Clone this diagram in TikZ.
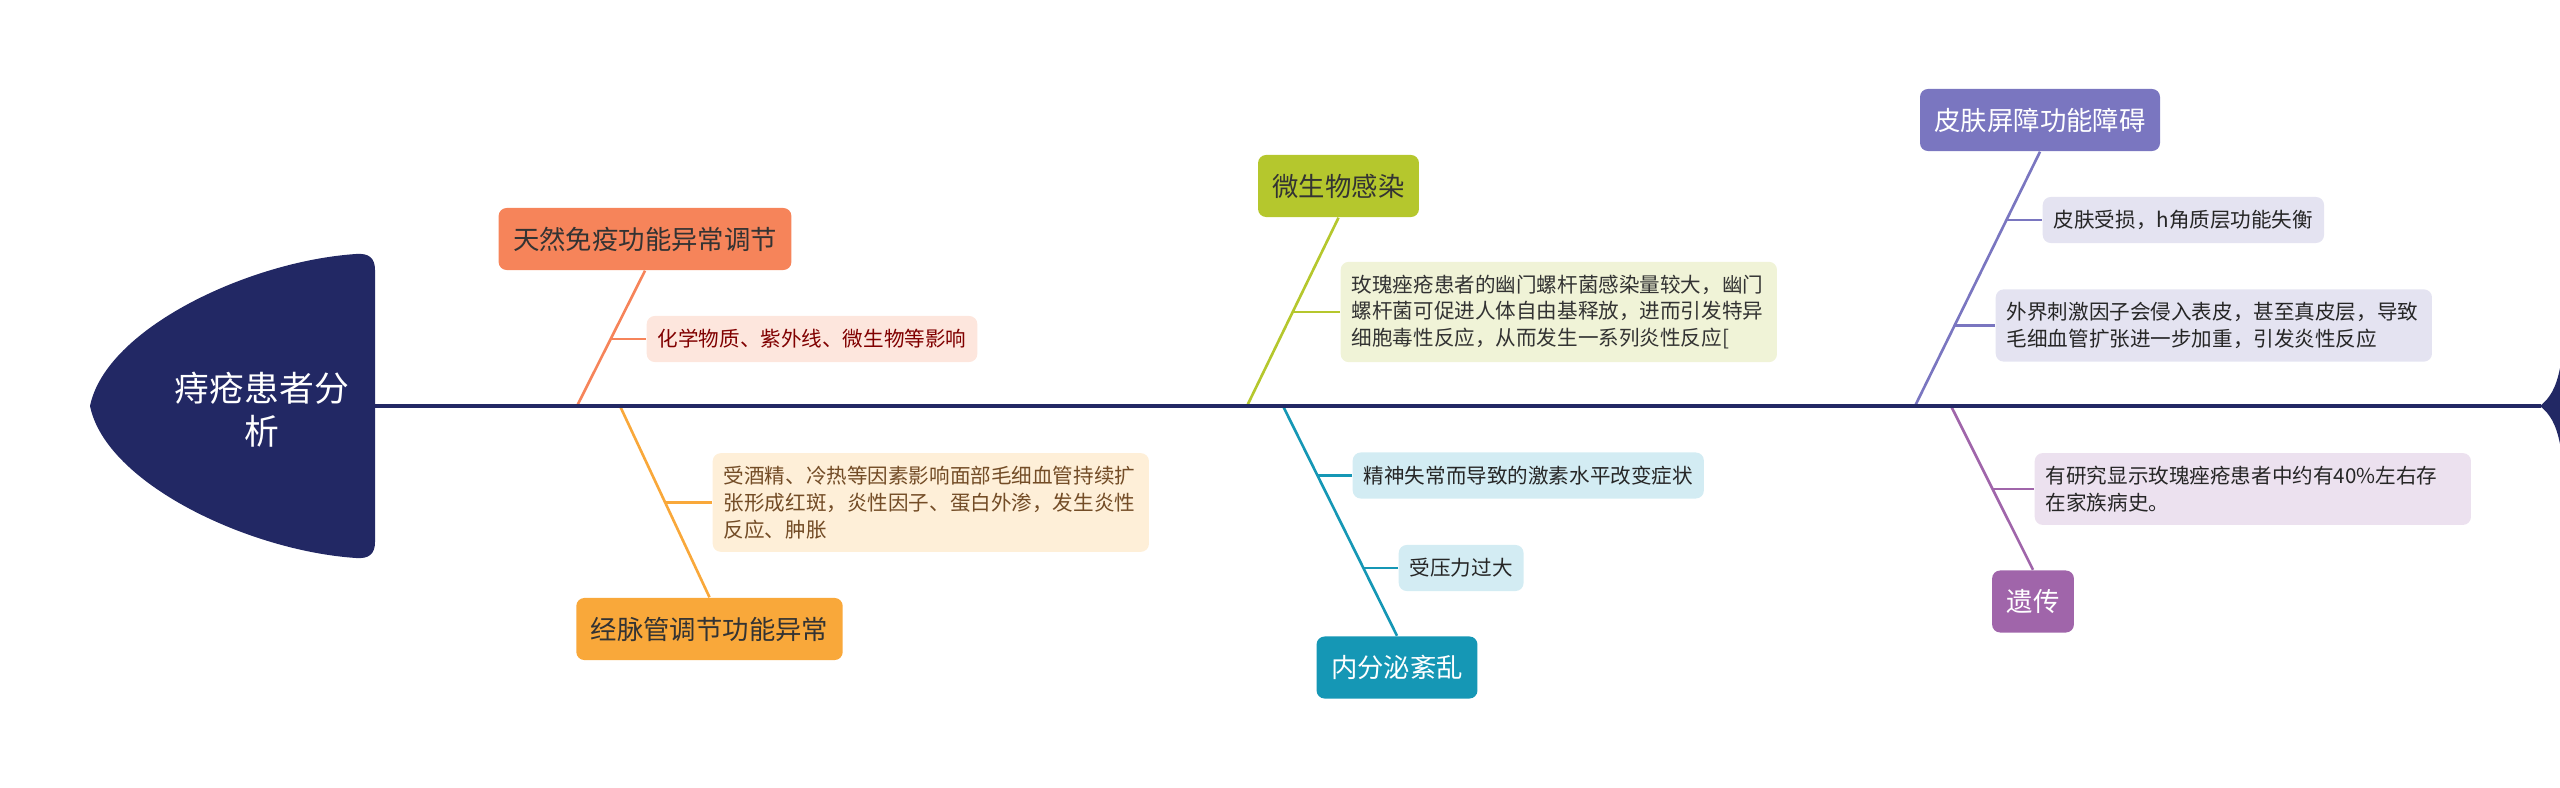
\documentclass[tikz,border=0pt]{standalone}
\usepackage{fontspec}
\setmainfont{Noto Sans CJK SC}
\usetikzlibrary{calc}
\definecolor{navy}{HTML}{222864}
\definecolor{immA}{HTML}{F6845A}
\definecolor{immB}{HTML}{FDE6DD}
\definecolor{vesA}{HTML}{F9A83A}
\definecolor{vesB}{HTML}{FEEFD8}
\definecolor{micA}{HTML}{B5C72D}
\definecolor{micB}{HTML}{F0F3D7}
\definecolor{endA}{HTML}{1597B5}
\definecolor{endB}{HTML}{D3ECF3}
\definecolor{skiA}{HTML}{7A76C0}
\definecolor{skiB}{HTML}{E4E3F1}
\definecolor{genA}{HTML}{A065AA}
\definecolor{genB}{HTML}{ECE1EF}
\tikzset{
  topic/.style={rounded corners=0.08cm, inner xsep=0.145cm, inner ysep=0pt,
    minimum height=0.62cm, font=\fontsize{7.5}{9}\selectfont},
  leaf/.style={rounded corners=0.08cm, inner xsep=0.11cm, inner ysep=0.13cm,
    minimum height=0.46cm, anchor=west, align=left, font=\fontsize{5.85}{7.6}\selectfont},
  wide/.style={leaf, text width=4.14cm},
  bone/.style={line width=0.75pt},
  twig/.style={line width=0.6pt},
  spine/.style={navy, line width=1pt},
}
\begin{document}
\begin{tikzpicture}[x=0.01cm, y=-0.01cm]
  \useasboundingbox (0,0) rectangle (2560,788);
  % 머리
  \fill[navy] (375,406) -- (375,270) .. controls (375,258) and (369,253) .. (356,254)
    .. controls (250,261) and (106,328) .. (90,406)
    .. controls (106,484) and (250,551) .. (356,558)
    .. controls (369,559) and (375,554) .. (375,542) -- cycle;
  \node[text=white, align=center, font=\fontsize{9.9}{12.3}\selectfont] (head) at (262,410) {痔疮患者分\\析};
  % 꼬리
  \fill[navy] (2540,406) .. controls (2550,398) and (2556,388) .. (2560,368)
    -- (2560,444) .. controls (2556,424) and (2550,414) .. (2540,406) -- cycle;
  \coordinate (neck) at (375,406);
  \coordinate (tail) at (2541,406);
  % 등뼈 위의 점
  \coordinate (s1) at (577,406);
  \coordinate (s2) at (620,406);
  \coordinate (s3) at (1247,406);
  \coordinate (s4) at (1283,406);
  \coordinate (s5) at (1915,406);
  \coordinate (s6) at (1951,406);
  % 큰 가지
  \node[topic, fill=immA, text=black!80] (c1) at (645,239) {天然免疫功能异常调节};
  \node[topic, fill=vesA, text=black!80] (c2) at (709.5,629) {经脉管调节功能异常};
  \node[topic, fill=micA, text=black!80] (c3) at (1338.5,186) {微生物感染};
  \node[topic, fill=endA, text=white] (c4) at (1397,667.5) {内分泌紊乱};
  \node[topic, fill=skiA, text=white] (c5) at (2040,120) {皮肤屏障功能障碍};
  \node[topic, fill=genA, text=white] (c6) at (2033,601.5) {遗传};
  % 작은 가지
  \node[leaf, fill=immB, text=red!50!black] (c1a) at (646,339) {化学物质、紫外线、微生物等影响};
  \node[wide, fill=vesB, text=brown!60!black] (c2a) at (712,502.5)
    {受酒精、冷热等因素影响面部毛细血管持续扩\\张形成红斑，炎性因子、蛋白外渗，发生炎性\\反应、肿胀};
  \node[wide, fill=micB, text=black!80] (c3a) at (1340,312)
    {玫瑰痤疮患者的幽门螺杆菌感染量较大，幽门\\螺杆菌可促进人体自由基释放，进而引发特异\\细胞毒性反应，从而发生一系列炎性反应[};
  \node[leaf, fill=endB, text=black!85] (c4a) at (1352,475.5) {精神失常而导致的激素水平改变症状};
  \node[leaf, fill=endB, text=black!85] (c4b) at (1398,568) {受压力过大};
  \node[leaf, fill=skiB, text=black!85] (c5a) at (2042,220) {皮肤受损，h角质层功能失衡};
  \node[wide, fill=skiB, text=black!85] (c5b) at (1995,325.5)
    {外界刺激因子会侵入表皮，甚至真皮层，导致\\毛细血管扩张进一步加重，引发炎性反应};
  \node[wide, fill=genB, text=black!85] (c6a) at (2034,489)
    {有研究显示玫瑰痤疮患者中约有40\%左右存\\在家族病史。};
  % 뼈대 선
  \foreach \s/\t/\c in {s1/c1.south/immA, s2/c2.north/vesA, s3/c3.south/micA,
                        s4/c4.north/endA, s5/c5.south/skiA, s6/c6.north/genA}{
    \draw[bone, \c] (\s) -- (\t);
  }
  \foreach \s/\t/\k/\c in {s1/c1.south/c1a/immA, s2/c2.north/c2a/vesA, s3/c3.south/c3a/micA,
                           s4/c4.north/c4a/endA, s4/c4.north/c4b/endA, s5/c5.south/c5a/skiA,
                           s5/c5.south/c5b/skiA, s6/c6.north/c6a/genA}{
    \draw[twig, \c] let \p1=(\s), \p2=(\t), \p3=(\k.west) in
      (\p3) -- ({\x1+(\x2-\x1)*(\y3-\y1)/(\y2-\y1)}, \y3);
  }
  \draw[spine] (neck) -- (tail);
\end{tikzpicture}
\end{document}
